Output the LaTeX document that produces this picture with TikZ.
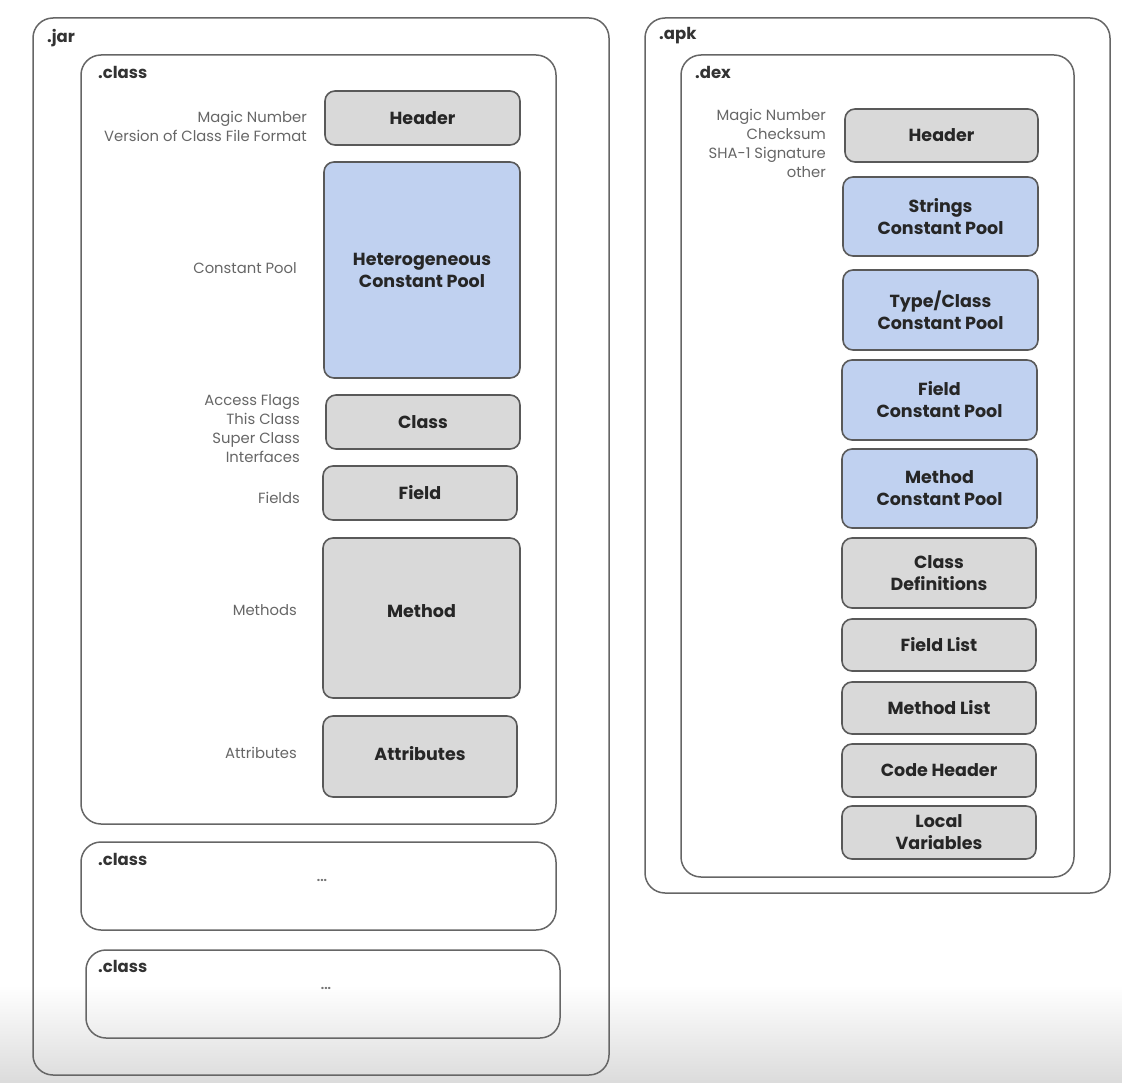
\documentclass[tikz,border=0pt]{standalone}
\usepackage{fontspec}
\setmainfont{Poppins}
\begin{document}
\begin{tikzpicture}[x=1pt,y=-1pt,
  container/.style={draw=black!60, line width=1.5pt, rounded corners=20pt},
  lbl/.style={anchor=west, font=\fontsize{16.5}{18}\selectfont\bfseries, text=black!80, inner sep=0pt},
  gbox/.style={draw=black!65, line width=1.6pt, rounded corners=10pt, fill=black!15,
    font=\fontsize{17.5}{22}\selectfont\bfseries, text=black!85, align=center, inner sep=0pt},
  bbox/.style={gbox, fill={rgb,255:red,192;green,209;blue,240}},
  side/.style={anchor=east, align=right, font=\fontsize{14.8}{19}\selectfont, text=black!60, inner sep=0pt},
  dots/.style={font=\fontsize{12}{12}\selectfont\bfseries, text=black!55, inner sep=0pt}]
\useasboundingbox (0,0) rectangle (1122,1083);
\shade[top color=white, bottom color=black!14] (0,985) rectangle (1122,1083);

% ---------------- left: .jar ----------------
\draw[container] (33,18) rectangle (609,1075);
\node[lbl] (jar) at (47,38) {.jar};
\draw[container] (81,55) rectangle (556,824);
\node[lbl] (cls1) at (98,72) {.class};

\node[gbox, minimum width=195, minimum height=54] (jhdr) at (422.5,118) {Header};
\node[side] (jhdrl) at (307,126) {Magic Number\\Version of Class File Format};

\node[bbox, minimum width=196, minimum height=216] (jcp) at (422,270) {Heterogeneous\\Constant Pool};
\node[side] (jcpl) at (297,268) {Constant Pool};

\node[gbox, minimum width=194, minimum height=54] (jcls) at (423,422) {Class};
\node[side] (jclsl) at (300,429) {Access Flags\\This Class\\Super Class\\Interfaces};

\node[gbox, minimum width=194, minimum height=54] (jfld) at (420,493) {Field};
\node[side] (jfldl) at (300,498) {Fields};

\node[gbox, minimum width=197, minimum height=160] (jmth) at (421.5,618) {\raisebox{14pt}{Method}};
\node[side] (jmthl) at (297,610) {Methods};

\node[gbox, minimum width=194, minimum height=81] (jatt) at (420,756.5) {\raisebox{6pt}{Attributes}};
\node[side] (jattl) at (297,753) {Attributes};

\draw[container] (81,842) rectangle (556,930);
\node[lbl] (cls2) at (98,859) {.class};
\node[dots] (dots2) at (322,880) {...};

\draw[container] (86,950) rectangle (560,1038);
\node[lbl] (cls3) at (98,966) {.class};
\node[dots] (dots3) at (326,988) {...};

% ---------------- right: .apk ----------------
\draw[container] (645,18) rectangle (1110,893);
\node[lbl] (apk) at (659,36) {.apk};
\draw[container] (681,55) rectangle (1074,877);
\node[lbl] (dex) at (695,72) {.dex};

\node[gbox, minimum width=193, minimum height=53] (dhdr) at (941.5,135.5) {Header};
\node[side] (dhdrl) at (826,143) {Magic Number\\Checksum\\SHA-1 Signature\\other};

\node[bbox, minimum width=195, minimum height=79] (dstr) at (940.5,216.5) {Strings\\Constant Pool};
\node[bbox, minimum width=195, minimum height=80] (dtyp) at (940.5,310) {Type/Class\\Constant Pool};
\node[bbox, minimum width=195, minimum height=80] (dfcp) at (939.5,400) {Field\\Constant Pool};
\node[bbox, minimum width=195, minimum height=79] (dmcp) at (939.5,488.5) {Method\\Constant Pool};
\node[gbox, minimum width=194, minimum height=70] (dcd) at (939,573) {Class\\Definitions};
\node[gbox, minimum width=194, minimum height=52] (dfl) at (939,645) {Field List};
\node[gbox, minimum width=194, minimum height=52] (dml) at (939,708) {Method List};
\node[gbox, minimum width=194, minimum height=53] (dch) at (939,770.5) {Code Header};
\node[gbox, minimum width=194, minimum height=53] (dlv) at (939,832.5) {Local\\Variables};
\end{tikzpicture}
\end{document}
